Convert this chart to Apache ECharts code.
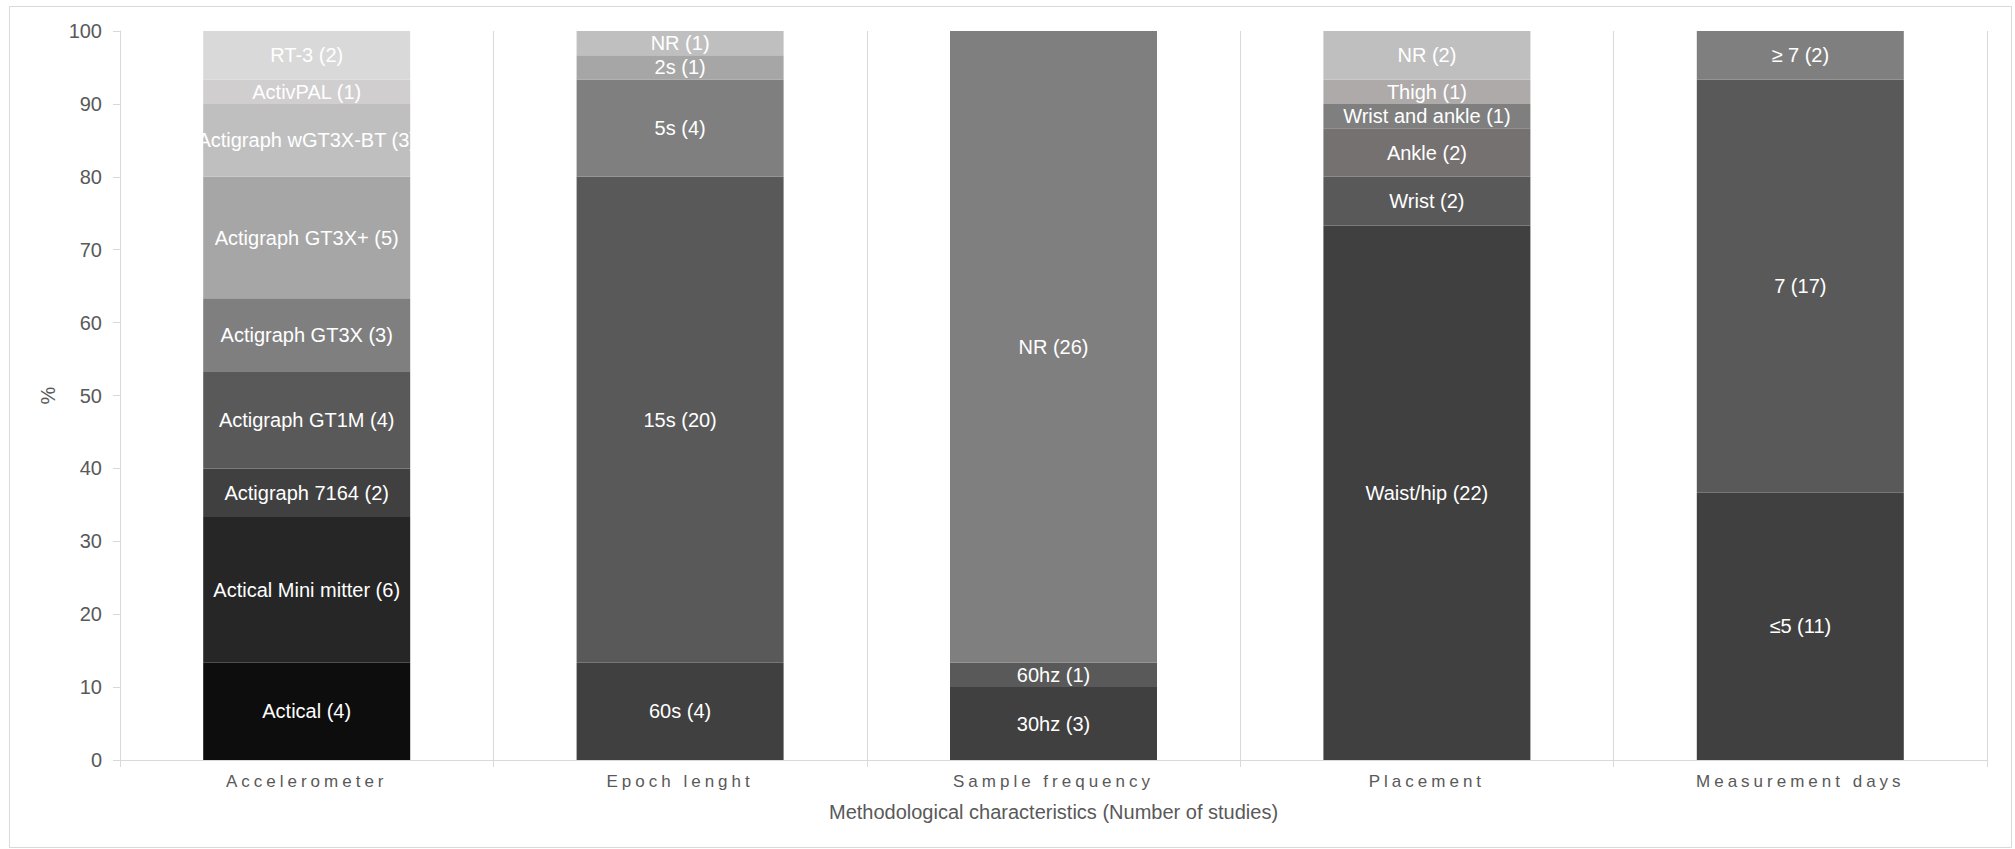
<!DOCTYPE html>
<html>
<head>
<meta charset="utf-8">
<script src="https://cdn.jsdelivr.net/npm/echarts@6/dist/echarts.min.js"></script>
<style>
html,body{margin:0;padding:0;background:#fff;}
#chart{width:2015px;height:849px;}
</style>
</head>
<body>
<div id="chart"></div>
<script>
// ---- data (number of studies per characteristic) ----
const categories = ['Accelerometer', 'Epoch lenght', 'Sample frequency', 'Placement', 'Measurement days'];

const accelerometerNames = ['Actical', 'Actical Mini mitter', 'Actigraph 7164', 'Actigraph GT1M', 'Actigraph GT3X', 'Actigraph GT3X+', 'Actigraph wGT3X-BT', 'ActivPAL', 'RT-3'];
const accelerometerCounts = [4, 6, 2, 4, 3, 5, 3, 1, 2];

const epochNames = ['60s', '15s', '5s', '2s', 'NR'];
const epochCounts = [4, 20, 4, 1, 1];

const frequencyNames = ['30hz', '60hz', 'NR'];
const frequencyCounts = [3, 1, 26];

const placementNames = ['Waist/hip', 'Wrist', 'Ankle', 'Wrist and ankle', 'Thigh', 'NR'];
const placementCounts = [22, 2, 2, 1, 1, 2];

const daysNames = ['≤5', '7', '≥ 7'];
const daysCounts = [11, 17, 2];

const yAxisName = '%';
const xAxisName = 'Methodological characteristics (Number of studies)';

// ---- styles ----
const accelerometerColors = ['#0d0d0d', '#262626', '#404040', '#595959', '#7f7f7f', '#a6a6a6', '#bfbfbf', '#d0cece', '#d9d9d9'];
const epochColors = ['#404040', '#595959', '#7f7f7f', '#a6a6a6', '#bfbfbf'];
const frequencyColors = ['#404040', '#595959', '#7f7f7f'];
const placementColors = ['#404040', '#595959', '#767171', '#7f7f7f', '#aeaaaa', '#bfbfbf'];
const daysColors = ['#404040', '#595959', '#7f7f7f'];

const groups = [
  {names: accelerometerNames, counts: accelerometerCounts, colors: accelerometerColors},
  {names: epochNames, counts: epochCounts, colors: epochColors},
  {names: frequencyNames, counts: frequencyCounts, colors: frequencyColors},
  {names: placementNames, counts: placementCounts, colors: placementColors},
  {names: daysNames, counts: daysCounts, colors: daysColors}
];

const FONT = '"Liberation Sans", Arial, sans-serif';
const maxLevels = Math.max(...groups.map(g => g.counts.length));
const series = [];
for (let lv = 0; lv < maxLevels; lv++) {
  series.push({
    type: 'bar',
    stack: 'all',
    barWidth: 207,
    data: groups.map(g => {
      if (lv >= g.counts.length) return '-';
      const total = g.counts.reduce((a, b) => a + b, 0);
      return {
        value: g.counts[lv] / total * 100,
        name: g.names[lv] + ' (' + g.counts[lv] + ')',
        itemStyle: {color: g.colors[lv]}
      };
    }),
    label: {
      show: true,
      position: 'inside',
      color: '#ffffff',
      fontSize: 20,
      fontFamily: FONT,
      formatter: p => p.name
    }
  });
}

const chart = echarts.init(document.getElementById('chart'), null, {renderer: 'svg'});
chart.setOption({
  animation: false,
  backgroundColor: '#ffffff',
  grid: {left: 120, right: 28, top: 31, bottom: 89},
  graphic: [{
    type: 'rect',
    shape: {x: 9.5, y: 6.5, width: 2002, height: 841},
    style: {fill: 'none', stroke: '#d9d9d9', lineWidth: 1},
    silent: true
  }],
  xAxis: {
    type: 'category',
    data: categories,
    name: xAxisName,
    nameLocation: 'middle',
    nameGap: 42,
    nameTextStyle: {color: '#595959', fontSize: 20, fontFamily: FONT},
    axisLine: {lineStyle: {color: '#d9d9d9', width: 1}},
    axisTick: {show: true, length: 7, lineStyle: {color: '#d9d9d9'}},
    splitLine: {show: true, interval: 0, lineStyle: {color: '#d9d9d9', width: 1}},
    axisLabel: {color: '#595959', fontSize: 17, fontFamily: FONT, margin: 13, interval: 0}
  },
  yAxis: {
    type: 'value',
    min: 0,
    max: 100,
    interval: 10,
    name: yAxisName,
    nameLocation: 'middle',
    nameRotate: 90,
    nameGap: 62,
    nameTextStyle: {color: '#595959', fontSize: 20, fontFamily: FONT},
    axisLine: {show: true, lineStyle: {color: '#d9d9d9', width: 1}},
    axisTick: {show: true, length: 7, lineStyle: {color: '#d9d9d9'}},
    splitLine: {show: false},
    axisLabel: {color: '#595959', fontSize: 20, fontFamily: FONT, margin: 18}
  },
  series: series
});

function spaceCategoryLabels() {
  document.querySelectorAll('#chart svg text').forEach(t => {
    if (categories.indexOf(t.textContent) >= 0) {
      t.style.letterSpacing = '4px';
    }
  });
}
chart.on('finished', spaceCategoryLabels);
setTimeout(spaceCategoryLabels, 50);
</script>
</body>
</html>
